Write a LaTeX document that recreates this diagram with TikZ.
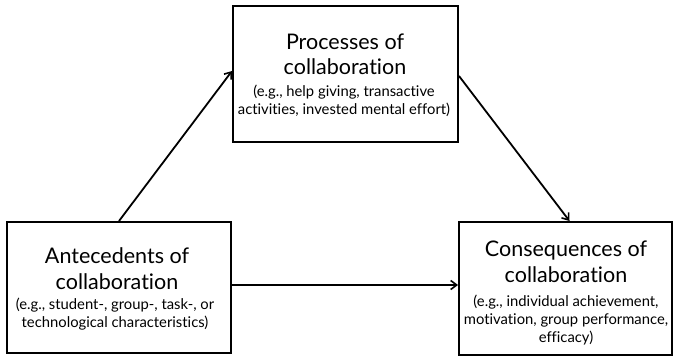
\documentclass[tikz,border=0pt]{standalone}
\usepackage{fontspec}
\setmainfont{Lato}[Ligatures=NoCommon]
\usetikzlibrary{arrows.meta,calc}
\newcommand\bigtxt{\fontsize{21.5}{26}\selectfont}
\newcommand\smalltxt{\fontsize{14.8}{18}\selectfont}
\begin{document}
\begin{tikzpicture}[x=1pt,y=-1pt,
  box/.style={draw=black,line width=2pt,fill=white,rectangle,inner sep=0pt},
  ttl/.style={anchor=base,inner sep=0pt,font=\bigtxt},
  dtl/.style={anchor=base,inner sep=0pt,font=\smalltxt},
  conn/.style={line width=1.8pt,-{Straight Barb[length=6pt,width=9pt,line width=1.6pt]}},
  ]
\useasboundingbox (0,0) rectangle (675,358);
\node[box,minimum width=224pt,minimum height=131pt] (a) at (119,287.5) {};
\node[box,minimum width=225pt,minimum height=136pt] (p) at (345.5,74) {};
\node[box,minimum width=213pt,minimum height=133pt] (c) at (565.5,288.5) {};
% Antecedents
\node[ttl] (a1) at (117,264) {Antecedents of};
\node[ttl] (a2) at (117,290) {collaboration};
\node[dtl] (a3) at (115,309) {(e.g., student-, group-, task-, or};
\node[dtl] (a4) at (115,327) {technological characteristics)};
% Processes
\node[ttl] (p1) at (345,50) {Processes of};
\node[ttl] (p2) at (345,75) {collaboration};
\node[dtl] (p3) at (344,97) {(e.g., help giving, transactive};
\node[dtl] (p4) at (344,115) {activities, invested mental effort)};
% Consequences
\node[ttl] (c1) at (566,257) {Consequences of};
\node[ttl] (c2) at (566,283) {collaboration};
\node[dtl] (c3) at (566,306) {(e.g., individual achievement,};
\node[dtl] (c4) at (566,324) {motivation, group performance,};
\node[dtl] (c5) at (566,342) {efficacy)};
\draw[conn] (a.north) -- ([yshift=3pt]p.west);
\draw[conn] ([yshift=-2pt]p.east) -- ([xshift=4pt]c.north);
\draw[conn] ([yshift=2.5pt]a.east) -- ([yshift=2.5pt]a.east -| c.west);
\end{tikzpicture}
\end{document}
